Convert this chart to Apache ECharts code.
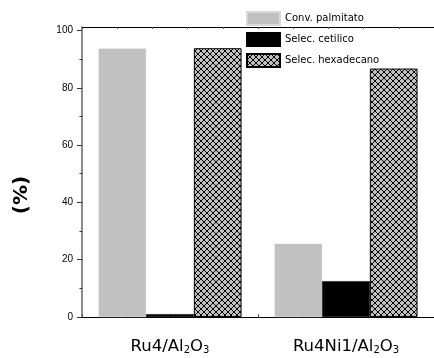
<!DOCTYPE html>
<html>
<head>
<meta charset="utf-8">
<script src="https://cdn.jsdelivr.net/npm/echarts@6/dist/echarts.min.js"></script>
<style>
html,body{margin:0;padding:0;background:#fff;}
#chart{width:434px;height:358px;}
</style>
</head>
<body>
<div id="chart"></div>
<script>
const categories = ['Ru4/Al2O3', 'Ru4Ni1/Al2O3'];
const seriesNames = ['Conv. palmitato', 'Selec. cetilico', 'Selec. hexadecano'];
const convPalmitato = [93.7, 25.6];
const selecCetilico = [1.0, 12.5];
const selecHexadecano = [93.8, 86.7];
const yTickLabels = [0, 20, 40, 60, 80, 100];
const yMinorTicks = [10, 30, 50, 70, 90];

function makeHatch() {
  const c = document.createElement('canvas');
  c.width = 6; c.height = 6;
  const g = c.getContext('2d');
  g.fillStyle = '#c0c0c0';
  g.fillRect(0, 0, 6, 6);
  g.strokeStyle = '#000';
  g.lineWidth = 1;
  g.beginPath();
  g.moveTo(0, 0); g.lineTo(6, 6);
  g.moveTo(6, 0); g.lineTo(0, 6);
  g.stroke();
  return c;
}
const hatch = { image: makeHatch(), repeat: 'repeat' };

const chart = echarts.init(document.getElementById('chart'), null, { renderer: 'canvas' });
const FONT = 'DejaVu Sans';
chart.setOption({
  animation: false,
  backgroundColor: '#fff',
  grid: { left: 82, top: 27, width: 358, bottom: 41, containLabel: false },
  legend: {
    orient: 'vertical', left: 246, top: 11, padding: 0,
    itemWidth: 33, itemHeight: 13, itemGap: 6,
    icon: 'rect',
    textStyle: { fontFamily: FONT, fontSize: 10, color: '#000' },
    data: seriesNames
  },
  xAxis: [
    {
      type: 'category', data: categories, position: 'bottom',
      axisLine: { onZero: false, lineStyle: { color: '#000', width: 1.2 } },
      axisTick: { show: false },
      axisLabel: {
        margin: 19, color: '#000', interval: 0, showMaxLabel: true, showMinLabel: true, hideOverlap: false,
        formatter: v => { const pre = v.split('Al2O3')[0]; return '{n|' + pre + 'Al}{s|2}{n|O}{s|3}'; },
        rich: {
          n: { fontFamily: FONT, fontSize: 16.5, color: '#000', verticalAlign: 'bottom' },
          s: { fontFamily: FONT, fontSize: 10, color: '#000', verticalAlign: 'bottom', padding: [9, 0, 0, 0] }
        }
      },
      splitLine: { show: false }
    },
    {
      type: 'value', min: 0, max: 8, interval: 1, position: 'bottom',
      axisLine: { show: false, onZero: false },
      axisTick: { show: true, inside: true, length: 3, lineStyle: { color: '#555' } },
      axisLabel: { show: false }, splitLine: { show: false }
    },
    {
      type: 'value', min: 0, max: 10, interval: 1, position: 'top',
      axisLine: { show: true, onZero: false, lineStyle: { color: '#000', width: 1 } },
      axisTick: { show: true, inside: true, length: 2, lineStyle: { color: '#555' } },
      axisLabel: { show: false }, splitLine: { show: false }
    }
  ],
  yAxis: [
    {
      type: 'value', min: 0, max: 101.2, interval: 20, position: 'left',
      axisLine: { show: true, onZero: false, lineStyle: { color: '#666', width: 1.5 } },
      axisTick: { show: true, inside: false, length: 5, customValues: yTickLabels, lineStyle: { color: '#333' } },
      axisLabel: { margin: 9, customValues: yTickLabels, fontFamily: 'Liberation Sans', fontSize: 10, color: '#000' },
      splitLine: { show: false }
    },
    {
      type: 'value', min: 0, max: 101.2, position: 'left',
      axisLine: { show: false, onZero: false },
      axisTick: { show: true, inside: false, length: 2.5, customValues: yMinorTicks, lineStyle: { color: '#333' } },
      axisLabel: { show: false }, splitLine: { show: false }
    }
  ],
  graphic: [{
    type: 'text', x: 22, y: 195, rotation: Math.PI / 2,
    style: { text: '(%)', font: 'bold 20px "DejaVu Sans"', fill: '#000', textAlign: 'center', textVerticalAlign: 'middle' }
  }],
  series: [
    { name: seriesNames[0], type: 'bar', data: convPalmitato, barWidth: 47.7, barGap: '0%',
      itemStyle: { color: '#c0c0c0', borderColor: '#d8d8d8', borderWidth: 0.5 } },
    { name: seriesNames[1], type: 'bar', data: selecCetilico, barWidth: 47.7, barGap: '0%',
      itemStyle: { color: '#000', borderColor: '#000', borderWidth: 0.5 } },
    { name: seriesNames[2], type: 'bar', data: selecHexadecano, barWidth: 47.7, barGap: '0%',
      itemStyle: { color: hatch, borderColor: '#000', borderWidth: 1 } }
  ]
});
</script>
</body>
</html>
